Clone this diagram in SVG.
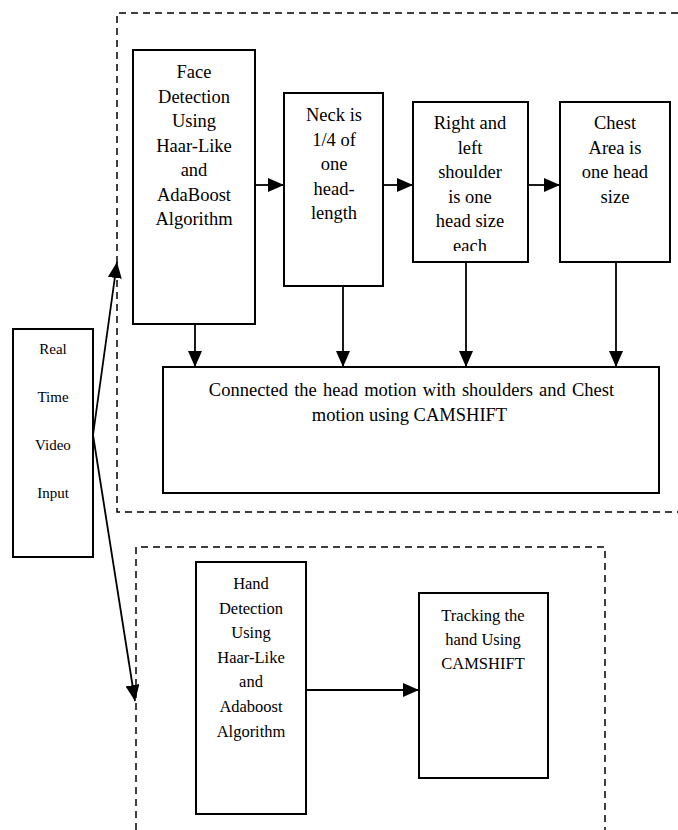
<svg xmlns="http://www.w3.org/2000/svg" width="678" height="830" viewBox="0 0 678 830">
<style>
.box{fill:#fff;stroke:#000;stroke-width:2}
.dash{fill:none;stroke:#000;stroke-width:1.5;stroke-dasharray:7 5}
.ln{fill:none;stroke:#000;stroke-width:1.8}
text{font-family:"Liberation Serif","Times New Roman",serif;fill:#000;text-anchor:middle}
.t18{font-size:18.5px}
.t16{font-size:16.5px}
.t15{font-size:15px}
</style>
<defs>
<marker id="ah" markerUnits="userSpaceOnUse" markerWidth="16" markerHeight="14" refX="16" refY="7" orient="auto">
<path d="M0,0 L16,7 L0,14 Z" fill="#000"/>
</marker>
<clipPath id="rsclip"><rect x="413" y="102" width="115" height="149"/></clipPath>
</defs>

<g id="groups">
<path class="dash" d="M678,13 H117 V512 H678"/>
<path class="dash" d="M136,830 V547 H605 V830"/>
</g>

<g id="connectors">
<line class="ln" x1="255" y1="185" x2="284" y2="185" marker-end="url(#ah)"/>
<line class="ln" x1="383" y1="185" x2="413" y2="185" marker-end="url(#ah)"/>
<line class="ln" x1="528" y1="185" x2="560" y2="185" marker-end="url(#ah)"/>
<line class="ln" x1="195" y1="324" x2="195" y2="367" marker-end="url(#ah)"/>
<line class="ln" x1="343" y1="286" x2="343" y2="367" marker-end="url(#ah)"/>
<line class="ln" x1="466" y1="259" x2="466" y2="367" marker-end="url(#ah)"/>
<line class="ln" x1="616" y1="259" x2="616" y2="367" marker-end="url(#ah)"/>
<line class="ln" x1="93" y1="435" x2="117" y2="262" marker-end="url(#ah)"/>
<line class="ln" x1="93" y1="435" x2="135" y2="701" marker-end="url(#ah)"/>
<line class="ln" x1="306" y1="690" x2="419" y2="690" marker-end="url(#ah)"/>
</g>

<g id="input">
<rect class="box" x="13" y="329" width="80" height="228"/>
<text class="t15" x="53" y="354">Real</text>
<text class="t15" x="53" y="402">Time</text>
<text class="t15" x="53" y="450">Video</text>
<text class="t15" x="53" y="498">Input</text>
</g>

<g id="face">
<rect class="box" x="133" y="50" width="122" height="274"/>
<text class="t18" x="194" y="78">Face</text>
<text class="t18" x="194" y="102.5">Detection</text>
<text class="t18" x="194" y="127">Using</text>
<text class="t18" x="194" y="151.5">Haar-Like</text>
<text class="t18" x="194" y="176">and</text>
<text class="t18" x="194" y="200.5">AdaBoost</text>
<text class="t18" x="194" y="225">Algorithm</text>
</g>

<g id="neck">
<rect class="box" x="284" y="93" width="99" height="193"/>
<text class="t18" x="334" y="121">Neck is</text>
<text class="t18" x="334" y="145.5">1/4 of</text>
<text class="t18" x="334" y="170">one</text>
<text class="t18" x="334" y="194.5">head-</text>
<text class="t18" x="334" y="219">length</text>
</g>

<g id="shoulder">
<rect class="box" x="413" y="102" width="115" height="160"/>
<g clip-path="url(#rsclip)">
<text class="t18" x="470" y="129">Right and</text>
<text class="t18" x="470" y="153.5">left</text>
<text class="t18" x="470" y="178">shoulder</text>
<text class="t18" x="470" y="202.5">is one</text>
<text class="t18" x="470" y="227">head size</text>
<text class="t18" x="470" y="252">each</text>
</g>
</g>

<g id="chest">
<rect class="box" x="560" y="102" width="110" height="160"/>
<text class="t18" x="615" y="129">Chest</text>
<text class="t18" x="615" y="153.5">Area is</text>
<text class="t18" x="615" y="178">one head</text>
<text class="t18" x="615" y="202.5">size</text>
</g>

<g id="connect">
<rect class="box" x="163" y="367" width="496" height="126"/>
<text class="t18" x="411.5" y="396" word-spacing="1.6">Connected the head motion with shoulders and Chest</text>
<text class="t18" x="409.5" y="421">motion using CAMSHIFT</text>
</g>

<g id="hand">
<rect class="box" x="196" y="562" width="110" height="252"/>
<text class="t16" x="251" y="589">Hand</text>
<text class="t16" x="251" y="613.5">Detection</text>
<text class="t16" x="251" y="638">Using</text>
<text class="t16" x="251" y="662.5">Haar-Like</text>
<text class="t16" x="251" y="687">and</text>
<text class="t16" x="251" y="712">Adaboost</text>
<text class="t16" x="251" y="737">Algorithm</text>
</g>

<g id="tracking">
<rect class="box" x="419" y="593" width="129" height="185"/>
<text class="t16" x="483" y="620.5">Tracking the</text>
<text class="t16" x="483" y="644.5">hand Using</text>
<text class="t16" x="483" y="668.5">CAMSHIFT</text>
</g>
</svg>
